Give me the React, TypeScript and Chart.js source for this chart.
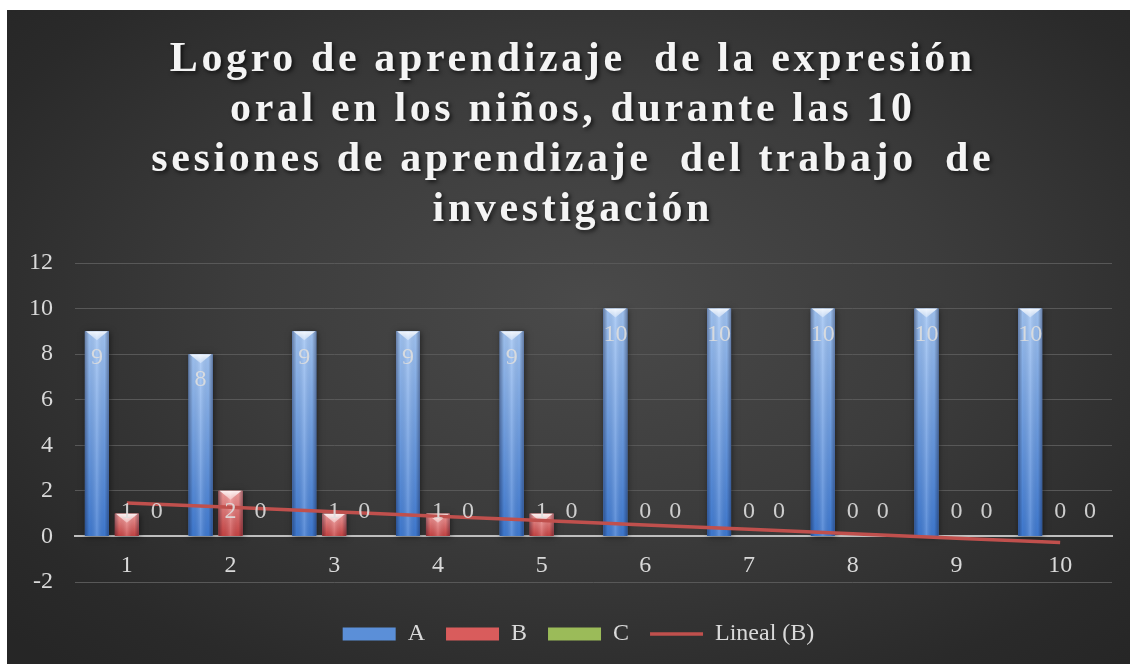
import React, { useEffect, useRef } from 'react';
import { Chart, registerables } from 'chart.js';

Chart.register(...registerables);

// ---- data ----
const categories = ['1', '2', '3', '4', '5', '6', '7', '8', '9', '10'];
const seriesA = [9, 8, 9, 9, 9, 10, 10, 10, 10, 10];
const seriesB = [1, 2, 1, 1, 1, 0, 0, 0, 0, 0];
const seriesC = [0, 0, 0, 0, 0, 0, 0, 0, 0, 0];
// linear trend of B
const trendB = [1.47, 1.28, 1.08, 0.89, 0.7, 0.5, 0.31, 0.12, -0.08, -0.27];
const seriesNames = ['A', 'B', 'C', 'Lineal (B)'];
const yMin = -2;
const yMax = 12;
const yStep = 2;
const titleLines = [
  'Logro de aprendizaje  de la expresión',
  'oral en los niños, durante las 10',
  'sesiones de aprendizaje  del trabajo  de',
  'investigación',
];

// ---- styles ----
const TEXT = '#d9d9d9';
const FONT = '"Liberation Serif", "DejaVu Serif", serif';
const barLooks = [
  { top: '#a2c5f4', bottom: '#3f7ad2', flat: '#5b8fd8' },
  { top: '#f4a0a0', bottom: '#c84444', flat: '#d95c5c' },
  { top: '#cfe79a', bottom: '#86ab3e', flat: '#9bbb59' },
];
const TREND = '#c0504d';

const barLookPlugin = {
  id: 'barLook',
  beforeDatasetDraw(chart: any, args: any) {
    if (args.meta.type !== 'bar') return;
    const ctx = chart.ctx;
    ctx.save();
    ctx.shadowColor = 'rgba(0,0,0,0.5)';
    ctx.shadowBlur = 6;
    ctx.shadowOffsetX = 1;
    ctx.shadowOffsetY = 1;
  },
  afterDatasetDraw(chart: any, args: any) {
    if (args.meta.type !== 'bar') return;
    const ctx = chart.ctx;
    ctx.restore();
    const look = barLooks[args.index];
    args.meta.data.forEach((el: any) => {
      const { x, y, base, width } = el.getProps(['x', 'y', 'base', 'width'], true);
      const top = Math.min(y, base);
      const h = Math.abs(base - y);
      if (h < 1) return;
      const left = x - width / 2;
      ctx.save();
      const vg = ctx.createLinearGradient(0, top, 0, top + h);
      vg.addColorStop(0, look.top);
      vg.addColorStop(1, look.bottom);
      ctx.fillStyle = vg;
      ctx.fillRect(left, top, width, h);
      const hg = ctx.createLinearGradient(left, 0, left + width, 0);
      hg.addColorStop(0, 'rgba(0,0,30,0.35)');
      hg.addColorStop(0.18, 'rgba(0,0,0,0.03)');
      hg.addColorStop(0.5, 'rgba(255,255,255,0.18)');
      hg.addColorStop(0.82, 'rgba(0,0,0,0.03)');
      hg.addColorStop(1, 'rgba(0,0,30,0.35)');
      ctx.fillStyle = hg;
      ctx.fillRect(left, top, width, h);
      const bh = Math.min(9, h / 2);
      const bg = ctx.createLinearGradient(0, top, 0, top + bh);
      bg.addColorStop(0, 'rgba(255,255,255,0.85)');
      bg.addColorStop(1, 'rgba(255,255,255,0.35)');
      ctx.beginPath();
      ctx.moveTo(left + 1, top);
      ctx.lineTo(left + width - 1, top);
      ctx.lineTo(x, top + bh);
      ctx.closePath();
      ctx.fillStyle = bg;
      ctx.fill();
      ctx.restore();
    });
  },
};

const labelPlugin = {
  id: 'valueLabels',
  afterDatasetsDraw(chart: any) {
    const ctx = chart.ctx;
    const zero = chart.scales.y.getPixelForValue(0);
    ctx.save();
    ctx.font = `24px ${FONT}`;
    ctx.fillStyle = 'rgba(222,222,222,0.9)';
    ctx.textAlign = 'center';
    ctx.textBaseline = 'middle';
    [0, 1, 2].forEach((di) => {
      const meta = chart.getDatasetMeta(di);
      const values = chart.data.datasets[di].data;
      meta.data.forEach((el: any, i: number) => {
        const cy = di === 0 ? el.y + 26 : zero - 25;
        ctx.fillText(String(values[i]), el.x, cy);
      });
    });
    ctx.restore();
  },
};

const titlePlugin = {
  id: 'spacedTitle',
  afterDraw(chart: any) {
    const ctx = chart.ctx;
    ctx.save();
    ctx.font = `bold 42px ${FONT}`;
    (ctx as any).letterSpacing = '0px';
    const w0 = ctx.measureText(titleLines[0]).width;
    const spacing = (806 - w0) / titleLines[0].length;
    (ctx as any).letterSpacing = `${spacing}px`;
    ctx.fillStyle = '#f4f4f4';
    ctx.textAlign = 'center';
    ctx.textBaseline = 'alphabetic';
    ctx.shadowColor = 'rgba(0,0,0,0.7)';
    ctx.shadowBlur = 4;
    ctx.shadowOffsetX = 2;
    ctx.shadowOffsetY = 2;
    const cx = 564 + spacing / 2;
    titleLines.forEach((line, i) => {
      ctx.fillText(line, cx, 61 + i * 50);
    });
    ctx.restore();
  },
};

// nudges the centred legend so it sits where the reference has it
const legendShiftPlugin = {
  id: 'legendShift',
  afterLayout(chart: any) {
    if (chart.legend) {
      chart.legend.left += 19;
      chart.legend.right += 19;
    }
  },
};

export default function App() {
  const ref = useRef<HTMLCanvasElement | null>(null);
  useEffect(() => {
    if (!ref.current) return;
    const barCommon = {
      type: 'bar' as const,
      order: 1,
      borderWidth: 0,
      categoryPercentage: 0.867,
      barPercentage: 0.8,
      pointStyle: 'rect',
    };
    const chart = new Chart(ref.current, {
      type: 'bar',
      data: {
        labels: categories,
        datasets: [
          { ...barCommon, label: seriesNames[0], data: seriesA, backgroundColor: barLooks[0].flat },
          { ...barCommon, label: seriesNames[1], data: seriesB, backgroundColor: barLooks[1].flat },
          { ...barCommon, label: seriesNames[2], data: seriesC, backgroundColor: barLooks[2].flat },
          {
            type: 'line' as const,
            order: 0,
            label: seriesNames[3],
            data: trendB,
            borderColor: TREND,
            backgroundColor: TREND,
            borderWidth: 3.5,
            pointRadius: 0,
            pointHoverRadius: 0,
            pointStyle: 'line',
            tension: 0,
          } as any,
        ],
      },
      options: {
        animation: false,
        responsive: false,
        maintainAspectRatio: false,
        events: [],
        layout: { padding: { top: 253, left: 0, right: 18, bottom: 8 } },
        scales: {
          x: {
            position: { y: 0 } as any,
            grid: { display: false, drawTicks: false },
            border: { display: true, color: '#bfbfbf', width: 2 },
            ticks: { color: TEXT, font: { family: FONT, size: 24 }, padding: 15 },
          },
          y: {
            min: yMin,
            max: yMax,
            ticks: { stepSize: yStep, color: TEXT, font: { family: FONT, size: 24 }, padding: 22 },
            grid: { color: '#585858', lineWidth: 1, drawTicks: false },
            border: { display: false },
          },
        },
        plugins: {
          title: { display: false },
          tooltip: { enabled: false },
          legend: {
            position: 'bottom',
            title: { display: true, text: '', font: { size: 10 }, padding: { top: 7, bottom: 0 } },
            labels: {
              color: TEXT,
              font: { family: FONT, size: 24 },
              usePointStyle: true,
              pointStyleWidth: 53,
              boxHeight: 13,
              padding: 21,
              sort: (a: any, b: any) => a.datasetIndex - b.datasetIndex,
            },
          },
        },
      },
      plugins: [barLookPlugin, labelPlugin, titlePlugin, legendShiftPlugin],
    });
    return () => chart.destroy();
  }, []);

  return (
    <div
      style={{
        position: 'fixed',
        left: 7,
        top: 10,
        width: 1123,
        height: 654,
        background:
          'radial-gradient(ellipse 70% 75% at 52% 45%, #4a4a4a 0%, #3c3c3c 45%, #2a2a2a 85%, #262626 100%)',
      }}
    >
      <canvas ref={ref} width={1123} height={654} style={{ display: 'block' }} />
    </div>
  );
}
